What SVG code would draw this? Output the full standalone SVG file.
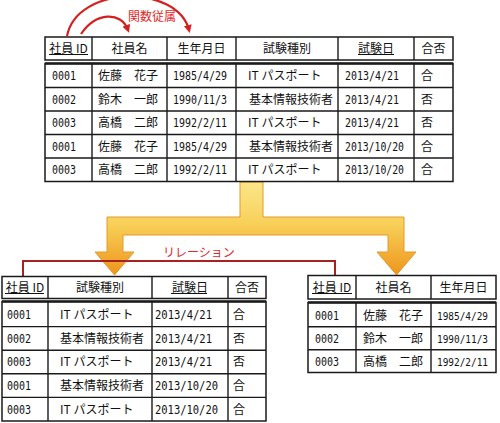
<svg xmlns="http://www.w3.org/2000/svg" width="500" height="423" viewBox="0 0 500 423">
<style>
.cell{fill:#fff;stroke:#1a1a1a;stroke-width:1.5}
.ln{stroke:#1a1a1a;stroke-width:1.4;fill:none}
.thick{stroke:#1a1a1a;stroke-width:2.6;fill:none}
.j{font-family:"Noto Sans CJK JP","DejaVu Sans",sans-serif;font-size:12px;fill:#111}
.m{font-family:"DejaVu Sans Mono","Liberation Mono",monospace;font-size:12px;fill:#111}
.ms{font-size:10.5px}
.h{text-anchor:middle}
.ul{stroke:#111;stroke-width:1.2}
.red{stroke:#d42020;stroke-width:2.2;fill:none}
.rel{stroke:#a82222;stroke-width:2;fill:none}
.rt{font-family:"Noto Sans CJK JP",sans-serif;font-size:12px;fill:#e02828}
</style>
<defs>
<linearGradient id="yg" gradientUnits="userSpaceOnUse" x1="0" y1="182" x2="0" y2="275">
<stop offset="0" stop-color="#fbe68a"/>
<stop offset="0.45" stop-color="#f8d058"/>
<stop offset="1" stop-color="#ee951c"/>
</linearGradient>
<marker id="ah" markerWidth="8" markerHeight="8" refX="5" refY="4" orient="auto" markerUnits="userSpaceOnUse" viewBox="0 0 8 8">
<path d="M0,0 L8,4 L0,8 Z" fill="#d42020"/>
</marker>
</defs>

<g id="connectors">
<path id="bigArrow" d="M240,182 L263,182 L263,217 L404,217 L404,252 L416,252 L396.5,275 L377,252 L388,252 L388,235 L123,235 L123,252 L134,252 L114.5,275 L95,252 L107,252 L107,217 L240,217 Z" fill="url(#yg)" stroke="#e39a30" stroke-width="1"/>
<path class="red" d="M67,36 C77,-15 177,-16 189,30" marker-end="url(#ah)"/>
<path class="red" d="M81,34 C96,12 121,11 128,30" marker-end="url(#ah)"/>
<text class="rt" x="128" y="21">関数従属</text>
<path class="rel" d="M23,276.5 L23,261 L335,261 L335,275.5"/>
<text class="rt" x="163" y="257">リレーション</text>
</g>

<g id="table-main">
<rect class="cell" x="45" y="37" width="408" height="23"/>
<rect class="cell" x="45" y="63.5" width="408" height="118"/>
<line class="thick" x1="45" y1="63.5" x2="453" y2="63.5"/>
<path class="ln" d="M92,37V60M167,37V60M236,37V60M338,37V60M414,37V60"/>
<path class="ln" d="M92,63.5V181.5M167,63.5V181.5M236,63.5V181.5M338,63.5V181.5M414,63.5V181.5"/>
<path class="ln" d="M45,87.5H453M45,111H453M45,134.5H453M45,158H453"/>
<text class="j h" x="68.5" y="52.5">社員 ID</text>
<line class="ul" x1="49" y1="54.5" x2="88" y2="54.5"/>
<text class="j h" x="129.5" y="52.5">社員名</text>
<text class="j h" x="201.5" y="52.5">生年月日</text>
<text class="j h" x="287" y="52.5">試験種別</text>
<text class="j h" x="376" y="52.5">試験日</text>
<line class="ul" x1="358" y1="54.5" x2="394" y2="54.5"/>
<text class="j h" x="433.5" y="52.5">合否</text>

<text class="m" x="52" y="80" textLength="24" lengthAdjust="spacingAndGlyphs">0001</text><text class="j" x="98" y="80">佐藤　花子</text><text class="m" x="173" y="80" textLength="54" lengthAdjust="spacingAndGlyphs">1985/4/29</text><text class="j" x="248" y="80">IT パスポート</text><text class="m" x="345" y="80" textLength="54" lengthAdjust="spacingAndGlyphs">2013/4/21</text><text class="j" x="421" y="80">合</text>
<text class="m" x="52" y="103.5" textLength="24" lengthAdjust="spacingAndGlyphs">0002</text><text class="j" x="98" y="103.5">鈴木　一郎</text><text class="m" x="173" y="103.5" textLength="54" lengthAdjust="spacingAndGlyphs">1990/11/3</text><text class="j" x="249" y="103.5">基本情報技術者</text><text class="m" x="345" y="103.5" textLength="54" lengthAdjust="spacingAndGlyphs">2013/4/21</text><text class="j" x="421" y="103.5">否</text>
<text class="m" x="52" y="127" textLength="24" lengthAdjust="spacingAndGlyphs">0003</text><text class="j" x="98" y="127">高橋　二郎</text><text class="m" x="173" y="127" textLength="54" lengthAdjust="spacingAndGlyphs">1992/2/11</text><text class="j" x="248" y="127">IT パスポート</text><text class="m" x="345" y="127" textLength="54" lengthAdjust="spacingAndGlyphs">2013/4/21</text><text class="j" x="421" y="127">否</text>
<text class="m" x="52" y="150.5" textLength="24" lengthAdjust="spacingAndGlyphs">0001</text><text class="j" x="98" y="150.5">佐藤　花子</text><text class="m" x="173" y="150.5" textLength="54" lengthAdjust="spacingAndGlyphs">1985/4/29</text><text class="j" x="249" y="150.5">基本情報技術者</text><text class="m" x="345" y="150.5" textLength="59" lengthAdjust="spacingAndGlyphs">2013/10/20</text><text class="j" x="421" y="150.5">合</text>
<text class="m" x="52" y="174" textLength="24" lengthAdjust="spacingAndGlyphs">0003</text><text class="j" x="98" y="174">高橋　二郎</text><text class="m" x="173" y="174" textLength="54" lengthAdjust="spacingAndGlyphs">1992/2/11</text><text class="j" x="248" y="174">IT パスポート</text><text class="m" x="345" y="174" textLength="59" lengthAdjust="spacingAndGlyphs">2013/10/20</text><text class="j" x="421" y="174">合</text>
</g>

<g id="table-exam">
<rect class="cell" x="2" y="276.5" width="264" height="22"/>
<rect class="cell" x="2" y="301.5" width="264" height="119.5"/>
<line class="thick" x1="2" y1="301.5" x2="266" y2="301.5"/>
<path class="ln" d="M48,276.5V298.5M152,276.5V298.5M228,276.5V298.5"/>
<path class="ln" d="M48,301.5V421M152,301.5V421M228,301.5V421"/>
<path class="ln" d="M2,326.6H266M2,350.2H266M2,373.8H266M2,397.4H266"/>
<text class="j h" x="25" y="291.5">社員 ID</text>
<line class="ul" x1="5" y1="293.5" x2="44" y2="293.5"/>
<text class="j h" x="100" y="291.5">試験種別</text>
<text class="j h" x="190" y="291.5">試験日</text>
<line class="ul" x1="171" y1="293.5" x2="207" y2="293.5"/>
<text class="j h" x="247" y="291.5">合否</text>

<text class="m" x="7" y="319" textLength="24" lengthAdjust="spacingAndGlyphs">0001</text><text class="j" x="60" y="319">IT パスポート</text><text class="m" x="155" y="319" textLength="57" lengthAdjust="spacingAndGlyphs">2013/4/21</text><text class="j" x="233" y="319">合</text>
<text class="m" x="7" y="342.5" textLength="24" lengthAdjust="spacingAndGlyphs">0002</text><text class="j" x="60" y="342.5">基本情報技術者</text><text class="m" x="155" y="342.5" textLength="57" lengthAdjust="spacingAndGlyphs">2013/4/21</text><text class="j" x="233" y="342.5">否</text>
<text class="m" x="7" y="366" textLength="24" lengthAdjust="spacingAndGlyphs">0003</text><text class="j" x="60" y="366">IT パスポート</text><text class="m" x="155" y="366" textLength="57" lengthAdjust="spacingAndGlyphs">2013/4/21</text><text class="j" x="233" y="366">否</text>
<text class="m" x="7" y="389.5" textLength="24" lengthAdjust="spacingAndGlyphs">0001</text><text class="j" x="60" y="389.5">基本情報技術者</text><text class="m" x="155" y="389.5" textLength="63" lengthAdjust="spacingAndGlyphs">2013/10/20</text><text class="j" x="233" y="389.5">合</text>
<text class="m" x="7" y="413.5" textLength="24" lengthAdjust="spacingAndGlyphs">0003</text><text class="j" x="60" y="413.5">IT パスポート</text><text class="m" x="155" y="413.5" textLength="63" lengthAdjust="spacingAndGlyphs">2013/10/20</text><text class="j" x="233" y="413.5">合</text>
</g>

<g id="table-employee">
<rect class="cell" x="308" y="275.5" width="188" height="23.5"/>
<rect class="cell" x="308" y="302.5" width="188" height="70"/>
<line class="thick" x1="308" y1="302.5" x2="496" y2="302.5"/>
<path class="ln" d="M356,275.5V299M431,275.5V299"/>
<path class="ln" d="M356,302.5V372.5M431,302.5V372.5"/>
<path class="ln" d="M308,326.8H496M308,349.7H496"/>
<text class="j h" x="332" y="291.5">社員 ID</text>
<line class="ul" x1="312" y1="293.5" x2="352" y2="293.5"/>
<text class="j h" x="393.5" y="291.5">社員名</text>
<text class="j h" x="463.5" y="291.5">生年月日</text>

<text class="m" x="315" y="319.5" textLength="24" lengthAdjust="spacingAndGlyphs">0001</text><text class="j" x="363" y="319.5">佐藤　花子</text><text class="m ms" x="437" y="319.5" textLength="51" lengthAdjust="spacingAndGlyphs">1985/4/29</text>
<text class="m" x="315" y="342.5" textLength="24" lengthAdjust="spacingAndGlyphs">0002</text><text class="j" x="363" y="342.5">鈴木　一郎</text><text class="m ms" x="437" y="342.5" textLength="51" lengthAdjust="spacingAndGlyphs">1990/11/3</text>
<text class="m" x="315" y="365.5" textLength="24" lengthAdjust="spacingAndGlyphs">0003</text><text class="j" x="363" y="365.5">高橋　二郎</text><text class="m ms" x="437" y="365.5" textLength="51" lengthAdjust="spacingAndGlyphs">1992/2/11</text>
</g>
</svg>
